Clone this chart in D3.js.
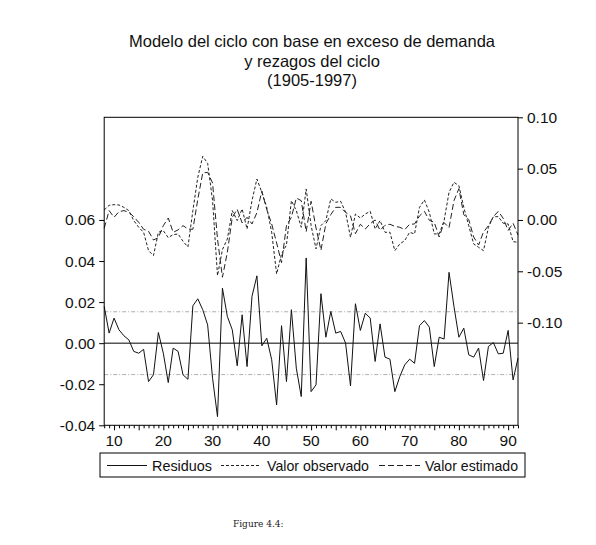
<!DOCTYPE html>
<html>
<head>
    <meta charset="utf-8">
    <title>Modelo del ciclo</title>
    <style>
        body { margin: 0; background: #fff; font-family: Arial, "Liberation Sans", sans-serif; }
        svg { display: block; }
        .resid { fill: none; stroke: #111; stroke-width: 1; }
        .obs { fill: none; stroke: #222; stroke-width: 1; stroke-dasharray: 3,2; }
        .fit { fill: none; stroke: #222; stroke-width: 1; stroke-dasharray: 6,3; }
    </style>
</head>
<body>
    <svg id="chart" width="596" height="545"></svg>
    <script src="https://d3js.org/d3.v7.min.js"></script>
    <script>
        // Data, 1908-1992
        const years = d3.range(1908, 1993);

        const residuos = [
            0.0179, 0.0049, 0.0122, 0.0065, 0.0036, 0.0016, -0.0040, -0.0049, -0.0030, -0.0187,
            -0.0154, 0.0052, -0.0049, -0.0192, -0.0024, -0.0040, -0.0154, -0.0176, 0.0182, 0.0216,
            0.0163, 0.0089, -0.0171, -0.0358, 0.0268, 0.0130, 0.0065, -0.0110, 0.0138, -0.0114,
            0.0228, 0.0328, -0.0013, 0.0024, -0.0081, -0.0301, 0.0085, -0.0187, 0.0163, -0.0122,
            -0.0260, 0.0415, -0.0236, -0.0203, 0.0241, 0.0029, 0.0154, 0.0049, 0.0057, 0.0000,
            -0.0208, 0.0192, 0.0062, 0.0146, 0.0122, -0.0089, 0.0094, -0.0068, -0.0078, -0.0236,
            -0.0163, -0.0106, -0.0078, -0.0098, 0.0085, 0.0110, 0.0078, -0.0114, 0.0029, 0.0020,
            0.0345, 0.0179, 0.0029, 0.0073, -0.0057, -0.0068, -0.0024, -0.0182, -0.0016, 0.0003,
            -0.0052, -0.0049, 0.0062, -0.0179, -0.0073
        ];

        const observado = [
            0.0097, 0.0143, 0.0149, 0.0146, 0.0123, 0.0091, -0.0006, -0.0071, -0.0120, -0.0299,
            -0.0347, -0.0120, -0.0104, -0.0172, -0.0143, -0.0136, -0.0208, -0.0263, 0.0091, 0.0416,
            0.0620, 0.0552, 0.0188, -0.0542, -0.0289, -0.0185, 0.0091, -0.0006, 0.0107, -0.0088,
            0.0188, 0.0399, 0.0269, 0.0123, -0.0120, -0.0526, -0.0331, -0.0244, 0.0188, 0.0091,
            -0.0071, 0.0302, -0.0055, -0.0282, -0.0055, -0.0006, 0.0205, 0.0172, 0.0182, 0.0075,
            -0.0169, 0.0058, 0.0019, 0.0058, 0.0084, -0.0088, -0.0006, -0.0120, -0.0120, -0.0299,
            -0.0234, -0.0201, -0.0120, -0.0136, 0.0123, 0.0195, 0.0075, -0.0136, -0.0136, -0.0006,
            0.0269, 0.0367, 0.0334, 0.0123, -0.0055, -0.0234, -0.0266, -0.0299, -0.0071, 0.0032,
            0.0032, -0.0032, -0.0039, -0.0211, -0.0218
        ];

        const estimado = [
            -0.0081, 0.0091, 0.0026, 0.0081, 0.0091, 0.0075, 0.0032, -0.0023, -0.0091, -0.0110,
            -0.0195, -0.0172, -0.0055, 0.0019, -0.0120, -0.0097, -0.0055, -0.0088, -0.0091, 0.0201,
            0.0458, 0.0464, 0.0360, -0.0185, -0.0558, -0.0315, 0.0026, 0.0104, -0.0029, 0.0026,
            -0.0039, 0.0071, 0.0282, 0.0101, -0.0039, -0.0224, -0.0416, -0.0055, 0.0026, 0.0214,
            0.0188, -0.0114, 0.0182, -0.0078, -0.0295, -0.0036, 0.0052, 0.0123, 0.0123, 0.0075,
            0.0039, -0.0133, -0.0042, -0.0088, -0.0036, 0.0000, -0.0101, -0.0052, -0.0042, -0.0062,
            -0.0071, -0.0094, -0.0042, -0.0039, 0.0039, 0.0084, -0.0003, -0.0023, -0.0166, -0.0026,
            -0.0075, 0.0188, 0.0305, 0.0052, 0.0003, -0.0166, -0.0244, -0.0117, -0.0055, 0.0032,
            0.0084, 0.0016, -0.0101, -0.0032, -0.0146
        ];

        const seResid = 0.0153;
        const leftTicks = [-0.04, -0.02, 0.00, 0.02, 0.04, 0.06];
        const rightTicks = [-0.10, -0.05, 0.00, 0.05, 0.10];
        const xLabels = [10, 20, 30, 40, 50, 60, 70, 80, 90];
        const titleLines = ["Modelo del ciclo con base en exceso de demanda", "y rezagos del ciclo", "(1905-1997)"];

        // Layout
        const plotL = 104.2, plotR = 518, plotT = 117.3, plotB = 425.3;
        const svg = d3.select("#chart");

        const x = d3.scaleLinear().domain([1908, 1992]).range([plotL, plotR]);
        const yL = d3.scaleLinear().domain([-0.04, 0.11]).range([plotB, plotT]);
        const yR = d3.scaleLinear().domain([-0.20, 0.10]).range([plotB, plotT]);

        // plain hyphen for negatives, as in the original
        const fmt = d => (d < 0 ? "-" : "") + Math.abs(d).toFixed(2);

        // Title
        svg.append("g").selectAll("text")
            .data(titleLines)
            .enter().append("text")
            .attr("x", 312)
            .attr("y", (d, i) => 47 + i * 19.5)
            .attr("text-anchor", "middle")
            .attr("font-size", 16.5)
            .attr("fill", "#111")
            .text(d => d);

        // Std error bands
        svg.append("g").selectAll("line")
            .data([seResid, -seResid])
            .enter().append("line")
            .attr("x1", plotL).attr("x2", plotR)
            .attr("y1", d => yL(d)).attr("y2", d => yL(d))
            .attr("stroke", "#999")
            .attr("stroke-width", 0.8)
            .attr("stroke-dasharray", "4,2,1,2");

        // Zero line
        svg.append("line")
            .attr("x1", plotL).attr("x2", plotR)
            .attr("y1", yL(0)).attr("y2", yL(0))
            .attr("stroke", "#000").attr("stroke-width", 1);

        // Series
        const lineL = d3.line().x((d, i) => x(years[i])).y(d => yL(d));
        const lineR = d3.line().x((d, i) => x(years[i])).y(d => yR(d));

        svg.append("path").datum(observado).attr("class", "obs").attr("d", lineR);
        svg.append("path").datum(estimado).attr("class", "fit").attr("d", lineR);
        svg.append("path").datum(residuos).attr("class", "resid").attr("d", lineL);

        // Frame
        svg.append("rect")
            .attr("x", plotL).attr("y", plotT)
            .attr("width", plotR - plotL).attr("height", plotB - plotT)
            .attr("fill", "none").attr("stroke", "#000").attr("stroke-width", 1);

        // Left axis
        const axL = svg.append("g")
            .attr("transform", `translate(${plotL},0)`)
            .call(d3.axisLeft(yL).tickValues(leftTicks).tickFormat(fmt).tickSize(5).tickPadding(4));
        // Right axis
        const axR = svg.append("g")
            .attr("transform", `translate(${plotR},0)`)
            .call(d3.axisRight(yR).tickValues(rightTicks).tickFormat(fmt).tickSize(5).tickPadding(4));
        // Bottom axis: minor ticks every year, longer at multiples of 5
        const axB = svg.append("g")
            .attr("transform", `translate(0,${plotB})`)
            .call(d3.axisBottom(x).tickValues(years).tickSize(3).tickFormat(""));
        axB.selectAll(".tick line")
            .attr("y2", d => d % 5 === 0 ? 5 : 3);
        svg.append("g").selectAll("text")
            .data(xLabels)
            .enter().append("text")
            .attr("x", d => x(1900 + d))
            .attr("y", plotB + 21)
            .attr("text-anchor", "middle")
            .attr("font-size", 15.5)
            .attr("fill", "#111")
            .text(d => d);

        [axL, axR, axB].forEach(g => {
            g.select(".domain").remove();
            g.selectAll("line").attr("stroke", "#000");
            g.selectAll("text").attr("font-size", 15.5).attr("fill", "#111")
                .attr("font-family", "Arial, 'Liberation Sans', sans-serif");
        });

        // Legend
        const legend = svg.append("g");
        legend.append("rect")
            .attr("x", 100).attr("y", 453)
            .attr("width", 425).attr("height", 24)
            .attr("fill", "none").attr("stroke", "#000").attr("stroke-width", 1);
        const items = [
            {name: "Residuos", cls: "resid", x0: 107, x1: 147, tx: 152, tw: 60},
            {name: "Valor observado", cls: "obs", x0: 221, x1: 261, tx: 267, tw: 102},
            {name: "Valor estimado", cls: "fit", x0: 379, x1: 420, tx: 425, tw: 93}
        ];
        items.forEach(it => {
            legend.append("line")
                .attr("class", it.cls)
                .attr("x1", it.x0).attr("x2", it.x1)
                .attr("y1", 465.5).attr("y2", 465.5);
            legend.append("text")
                .attr("x", it.tx).attr("y", 471)
                .attr("font-size", 14.5)
                .attr("fill", "#111")
                .attr("textLength", it.tw)
                .attr("lengthAdjust", "spacingAndGlyphs")
                .text(it.name);
        });

        // Caption
        svg.append("text")
            .attr("x", 233).attr("y", 527)
            .attr("font-family", "'DejaVu Serif', 'Liberation Serif', serif")
            .attr("font-size", 9)
            .attr("fill", "#222")
            .text("Figure 4.4:");
    </script>
</body>
</html>
